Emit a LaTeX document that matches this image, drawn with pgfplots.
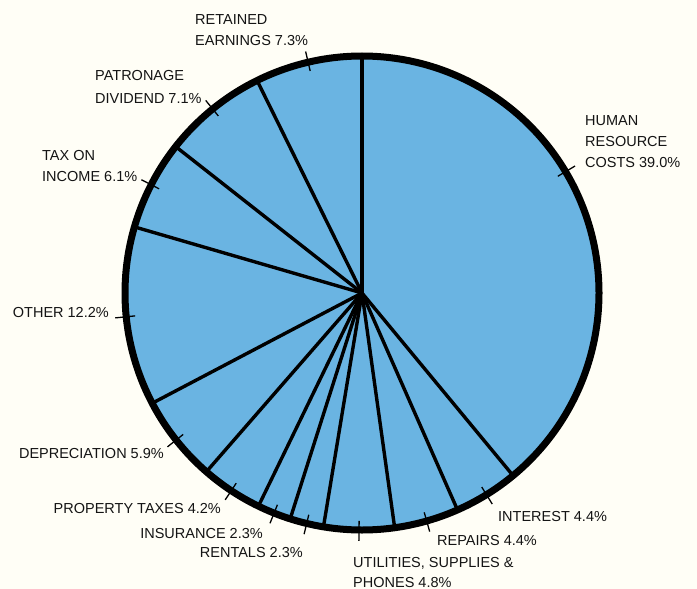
\documentclass[border=0pt]{standalone}
\usepackage{pgfplots}
\pgfplotsset{compat=1.18}
\usepackage{pgfplotstable}
\usepackage{fontspec}
\setmainfont{Liberation Sans}
\usetikzlibrary{backgrounds}
\definecolor{pieblue}{RGB}{106,180,226}
\definecolor{paper}{RGB}{255,254,246}

% slice shares (clockwise from 12 o'clock) and tick offset for the label marks
\pgfplotstableread{
pct  toff
39.0 11.0
4.4  0
4.4  0
4.8  0
2.3  0
2.3  0
4.2  0
5.9  0
12.2 0
6.1  0
7.1  0
7.3  0
}\slices
\pgfplotstablecreatecol[create col/expr accum={\pgfmathaccuma + \thisrow{pct}}{0}]{cum}\slices

\begin{document}
\begin{tikzpicture}[show background rectangle,
  background rectangle/.style={fill=paper, draw=none},
  inner frame sep=0pt,
  lbl/.style={font=\fontsize{14.5bp}{17bp}\selectfont, inner sep=0pt, text=black!92}]
\begin{axis}[hide axis, scale only axis, width=697bp, height=589bp,
  xmin=0, xmax=697, ymin=0, ymax=589, y dir=reverse, clip=false]
\addplot[draw=none] coordinates {(0,0) (697,589)};
% pie disc
\addplot[fill=pieblue, draw=none, domain=0:360, samples=361]
  ({362+237*cos(x)}, {293-237*sin(x)}) -- cycle;
% slice boundaries
\addplot[black, line width=3.4bp,
  quiver={u={237*cos(90-3.6*\thisrow{cum})}, v={-237*sin(90-3.6*\thisrow{cum})}}]
  table[x expr=362, y expr=293] {\slices};
% outer rim
\addplot[draw=black, line width=7bp, domain=0:360, samples=361]
  ({362+237*cos(x)}, {293-237*sin(x)}) -- cycle;
% label ticks
\addplot[black, line width=1.3bp,
  quiver={u={20*cos(90-3.6*(\thisrow{cum}-\thisrow{pct}/2)+\thisrow{toff})},
          v={-20*sin(90-3.6*(\thisrow{cum}-\thisrow{pct}/2)+\thisrow{toff})}}]
  table[x expr={362+228*cos(90-3.6*(\thisrow{cum}-\thisrow{pct}/2)+\thisrow{toff})},
        y expr={293-228*sin(90-3.6*(\thisrow{cum}-\thisrow{pct}/2)+\thisrow{toff})}] {\slices};
% labels
\node[lbl, anchor=base west] at (axis cs:195,25) {RETAINED};
\node[lbl, anchor=base west] at (axis cs:195,46) {EARNINGS 7.3\%};
\node[lbl, anchor=base west] at (axis cs:95,81) {PATRONAGE};
\node[lbl, anchor=base west] at (axis cs:95,103) {DIVIDEND 7.1\%};
\node[lbl, anchor=base west] at (axis cs:42,160) {TAX ON};
\node[lbl, anchor=base west] at (axis cs:42,181) {INCOME 6.1\%};
\node[lbl, anchor=base east] at (axis cs:109,317) {OTHER 12.2\%};
\node[lbl, anchor=base east] at (axis cs:164,458) {DEPRECIATION 5.9\%};
\node[lbl, anchor=base east] at (axis cs:221,513) {PROPERTY TAXES 4.2\%};
\node[lbl, anchor=base east] at (axis cs:263,538) {INSURANCE 2.3\%};
\node[lbl, anchor=base east] at (axis cs:303,557) {RENTALS 2.3\%};
\node[lbl, anchor=base west] at (axis cs:353,567) {UTILITIES, SUPPLIES \&};
\node[lbl, anchor=base west] at (axis cs:353,587) {PHONES 4.8\%};
\node[lbl, anchor=base west] at (axis cs:437,545) {REPAIRS 4.4\%};
\node[lbl, anchor=base west] at (axis cs:498,521) {INTEREST 4.4\%};
\node[lbl, anchor=base west] at (axis cs:585,125) {HUMAN};
\node[lbl, anchor=base west] at (axis cs:585,146) {RESOURCE};
\node[lbl, anchor=base west] at (axis cs:585,167) {COSTS 39.0\%};
\end{axis}
\end{tikzpicture}
\end{document}
